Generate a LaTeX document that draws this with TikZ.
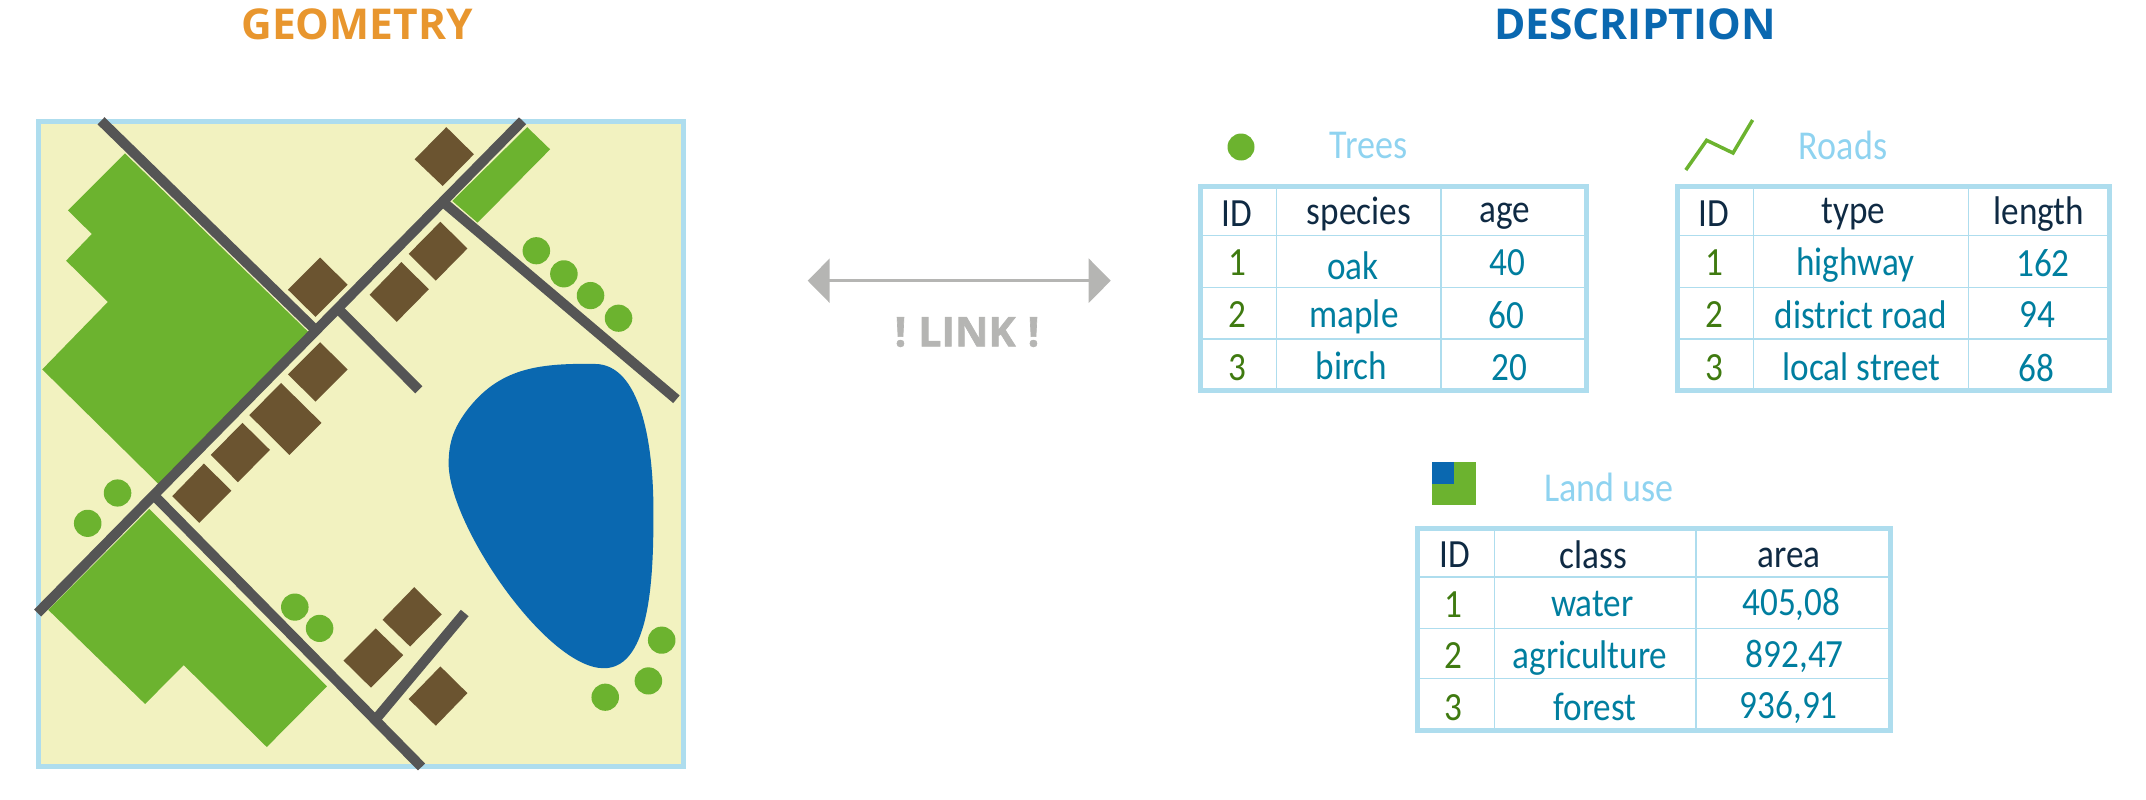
\documentclass[tikz,border=0pt]{standalone}
\usepackage{fontspec}
\usetikzlibrary{arrows.meta}
\newfontfamily\handfont[FakeStretch=0.88]{Carlito}
\newfontfamily\titlefont{Open Sans}
\newfontfamily\linkfont[FakeBold=1.6]{Open Sans}
\definecolor{mapgreen}{RGB}{108, 179, 47}
\definecolor{mapblue}{RGB}{10, 104, 176}
\definecolor{mapbrown}{RGB}{107, 84, 48}
\definecolor{mapsand}{RGB}{242, 242, 192}
\definecolor{maproad}{RGB}{85, 85, 85}
\definecolor{framelight}{RGB}{174, 221, 238}
\definecolor{linkgrey}{RGB}{181, 181, 179}
\definecolor{titleorange}{RGB}{232, 150, 46}
\definecolor{headnavy}{RGB}{15, 42, 67}
\definecolor{idgreen}{RGB}{63, 122, 16}
\definecolor{datateal}{RGB}{0, 126, 159}
\definecolor{legendblue}{RGB}{143, 211, 240}
\tikzstyle{road} = [draw=maproad, line width=10pt]
\tikzstyle{building} = [fill=mapbrown]
\tikzstyle{tree} = [fill=mapgreen]
\tikzstyle{tableframe} = [draw=framelight, line width=5pt]
\tikzstyle{tablerule} = [draw=framelight, line width=1.2pt]
\tikzstyle{titletext} = [inner sep=0pt, font=\titlefont\fontsize{42.5}{44}\selectfont\bfseries]
\tikzstyle{linktext} = [inner sep=0pt, text=linkgrey, font=\linkfont\fontsize{41}{44}\selectfont\bfseries]
\tikzstyle{legendtext} = [inner sep=0pt, text=legendblue, font=\handfont\fontsize{41}{41}\selectfont]
\tikzstyle{headcell} = [inner sep=0pt, text=headnavy, font=\handfont\fontsize{40}{40}\selectfont]
\tikzstyle{idcell} = [inner sep=0pt, text=idgreen, font=\handfont\fontsize{40}{40}\selectfont]
\tikzstyle{datacell} = [inner sep=0pt, text=datateal, font=\handfont\fontsize{40}{40}\selectfont]

\begin{document}
\begin{tikzpicture}[x=1pt, y=-1pt]
  \useasboundingbox (0,0) rectangle (2146,800);
  \def\treeradius{30}

  % Titles
  \node[titletext, text=titleorange] (geometrytitle) at (357,24) {GEOMETRY};
  \node[titletext, text=mapblue] (descriptiontitle) at (1635,24) {DESCRIPTION};

  % Map
  \begin{scope}[shift={(0,90)}, x=0.4592pt, y=-0.4528pt]
    \fill[mapsand] (83,70) rectangle (1489,1495);

    % Fields
    \fill[mapgreen] (272,140) -- (148,266) -- (200,318) -- (144,377) -- (235,468)
      -- (92,617) -- (345,870) -- (672,535) -- cycle;
    \fill[mapgreen] (325,925) -- (105,1148) -- (316,1356) -- (400,1270) -- (581,1451)
      -- (712,1317) -- cycle;
    \fill[mapgreen] (1148,82) -- (1198,131) -- (1040,293) -- (985,245) -- cycle;

    % Lake
    \fill[mapblue] (1295,605) .. controls (1170,603) and (1085,615) .. (1015,710)
      .. controls (990,745) and (977,775) .. (977,825)
      .. controls (977,960) and (1190,1277) .. (1315,1277)
      .. controls (1420,1277) and (1423,1060) .. (1423,930)
      .. controls (1423,780) and (1395,605) .. (1295,605) -- cycle;

    % Frame
    \draw[tableframe] (83,70) rectangle (1489,1495);

    % Roads
    \draw[road] (82,1155) -- (1138,68);
    \draw[road] (220,68) -- (687,530);
    \draw[road] (968,250) -- (1473,683);
    \draw[road] (738,485) -- (912,662);
    \draw[road] (338,898) -- (918,1495);
    \draw[road] (818,1390) -- (1012,1155);

    % Buildings
    \fill[building] (972,82) -- (1032,142) -- (964,212) -- (903,153) -- cycle;
    \fill[building] (697,370) -- (757,430) -- (687,501) -- (627,441) -- cycle;
    \fill[building] (959,291) -- (1018,350) -- (949,421) -- (890,362) -- cycle;
    \fill[building] (874,380) -- (934,440) -- (864,512) -- (805,452) -- cycle;
    \fill[building] (697,557) -- (757,617) -- (687,688) -- (627,628) -- cycle;
    \fill[building] (612,647) -- (700,735) -- (630,806) -- (543,718) -- cycle;
    \fill[building] (528,735) -- (588,795) -- (518,866) -- (459,806) -- cycle;
    \fill[building] (444,825) -- (504,885) -- (434,956) -- (375,897) -- cycle;
    \fill[building] (902,1098) -- (962,1158) -- (893,1229) -- (833,1170) -- cycle;
    \fill[building] (818,1189) -- (878,1248) -- (808,1320) -- (748,1260) -- cycle;
    \fill[building] (959,1273) -- (1018,1332) -- (949,1404) -- (890,1345) -- cycle;

    % Trees
    \fill[tree] (1168,355) circle(\treeradius);
    \fill[tree] (1228,406) circle(\treeradius);
    \fill[tree] (1286,454) circle(\treeradius);
    \fill[tree] (1347,504) circle(\treeradius);
    \fill[tree] (256,890) circle(\treeradius);
    \fill[tree] (191,957) circle(\treeradius);
    \fill[tree] (642,1142) circle(\treeradius);
    \fill[tree] (696,1189) circle(\treeradius);
    \fill[tree] (1441,1215) circle(\treeradius);
    \fill[tree] (1412,1305) circle(\treeradius);
    \fill[tree] (1318,1341) circle(\treeradius);
  \end{scope}

  % Link
  \coordinate (linkleft) at (807.7,280.7);
  \coordinate (linkright) at (1110.7,280.7);
  \draw[draw=linkgrey, line width=2.7pt, {Triangle[length=22pt, width=44pt]}-{Triangle[length=22pt, width=44pt]}] (linkleft) -- (linkright);
  \node[linktext] (linktext) at (967,332) {!\hspace{12pt}LINK\hspace{12pt}!};

  % Trees table
  \fill[tree] (1241,147) circle(13.5);
  \node[legendtext] (treeslegend) at (1368.6,145) {Trees};
  \draw[tablerule] (1200.8,235.6) -- (1586,235.6);
  \draw[tablerule] (1200.8,287.8) -- (1586,287.8);
  \draw[tablerule] (1200.8,339) -- (1586,339);
  \draw[tablerule] (1276.8,186) -- (1276.8,390.5);
  \draw[tablerule] (1440.9,186) -- (1440.9,390.5);
  \draw[tableframe] (1200.8,186) rectangle (1586,390.5);
  \node[headcell] (treeshid) at (1237,213.7) {ID};
  \node[headcell] (treeshspecies) at (1358.8,213.7) {species};
  \node[headcell] (treeshage) at (1504.5,216.5) {age};
  \node[idcell] (treesid1) at (1237,263) {1};
  \node[datacell] (treesspecies1) at (1352.7,266) {oak};
  \node[datacell] (treesage1) at (1507.6,263) {40};
  \node[idcell] (treesid2) at (1237,315) {2};
  \node[datacell] (treesspecies2) at (1354,317) {maple};
  \node[datacell] (treesage2) at (1506,315) {60};
  \node[idcell] (treesid3) at (1237,368) {3};
  \node[datacell] (treesspecies3) at (1351.5,366) {birch};
  \node[datacell] (treesage3) at (1509,368) {20};

  % Roads table
  \draw[draw=mapgreen, line width=3.5pt] (1685.8,170) -- (1706.6,140.3) -- (1733,153) -- (1752.6,120);
  \node[legendtext] (roadslegend) at (1843,145) {Roads};
  \draw[tablerule] (1677,235.6) -- (2109,235.6);
  \draw[tablerule] (1677,287.8) -- (2109,287.8);
  \draw[tablerule] (1677,339) -- (2109,339);
  \draw[tablerule] (1753.8,186) -- (1753.8,390.5);
  \draw[tablerule] (1968.7,186) -- (1968.7,390.5);
  \draw[tableframe] (1677,186) rectangle (2109,390.5);
  \node[headcell] (roadshid) at (1714,213.7) {ID};
  \node[headcell] (roadshtype) at (1853.6,213.7) {type};
  \node[headcell] (roadshlength) at (2039,213.7) {length};
  \node[idcell] (roadsid1) at (1714,263) {1};
  \node[datacell] (roadstype1) at (1855.4,265) {highway};
  \node[datacell] (roadslength1) at (2043,263) {162};
  \node[idcell] (roadsid2) at (1714,315) {2};
  \node[datacell] (roadstype2) at (1861,315) {district road};
  \node[datacell] (roadslength2) at (2037,315) {94};
  \node[idcell] (roadsid3) at (1714,368) {3};
  \node[datacell] (roadstype3) at (1861.6,366.6) {local street};
  \node[datacell] (roadslength3) at (2036,368) {68};

  % Land use table
  \fill[mapgreen] (1431.8,461.7) rectangle (1475.6,505);
  \fill[mapblue] (1431.8,461.7) rectangle (1453.7,484);
  \node[legendtext] (landlegend) at (1609,487) {Land use};
  \draw[tablerule] (1417.6,577) -- (1890.5,577);
  \draw[tablerule] (1417.6,628.3) -- (1890.5,628.3);
  \draw[tablerule] (1417.6,678.7) -- (1890.5,678.7);
  \draw[tablerule] (1494.2,528) -- (1494.2,730.3);
  \draw[tablerule] (1695.9,528) -- (1695.9,730.3);
  \draw[tableframe] (1417.6,528) rectangle (1890.5,730.3);
  \node[headcell] (landhid) at (1454.7,555) {ID};
  \node[headcell] (landhclass) at (1593.4,555) {class};
  \node[headcell] (landharea) at (1789,557.5) {area};
  \node[idcell] (landid1) at (1453.7,605) {1};
  \node[datacell] (landclass1) at (1592.4,604) {water};
  \node[datacell] (landarea1) at (1791.4,604) {405,08};
  \node[idcell] (landid2) at (1453.7,656) {2};
  \node[datacell] (landclass2) at (1590,658) {agriculture};
  \node[datacell] (landarea2) at (1794.7,656) {892,47};
  \node[idcell] (landid3) at (1453.7,708) {3};
  \node[datacell] (landclass3) at (1595,707) {forest};
  \node[datacell] (landarea3) at (1788.7,708) {936,91};
\end{tikzpicture}
\end{document}
